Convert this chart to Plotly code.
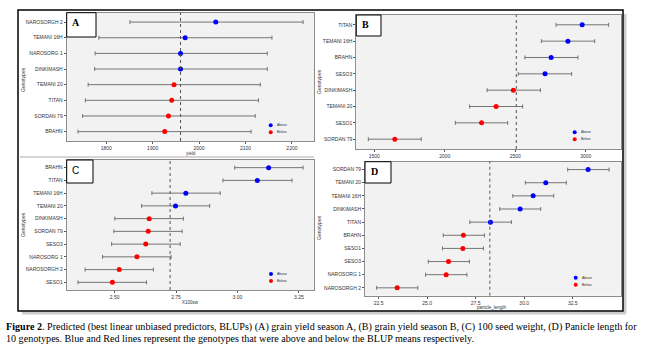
import plotly.graph_objects as go

W, H = 648, 350

# ---------------- data ----------------
A_genotypes = ["NAROSORGH 2", "TEMANI 16H", "NAROSORG 1", "DINKIMASH", "TEMANI 20", "TITAN", "SORDAN 79", "BRAHN"]
A_blup = [2036, 1970, 1960, 1960, 1946, 1941, 1934, 1926]
A_lower = [1851, 1784, 1776, 1775, 1761, 1755, 1749, 1739]
A_upper = [2224, 2157, 2147, 2147, 2132, 2128, 2121, 2112]
A_group = ["Above", "Above", "Above", "Above", "Below", "Below", "Below", "Below"]
A_mean = 1960
A_ticks = [1800, 1900, 2000, 2100, 2200]

B_genotypes = ["TITAN", "TEMANI 16H", "BRAHN", "SESO3", "DINKIMASH", "TEMANI 20", "SESO1", "SORDAN 79"]
B_blup = [2974, 2873, 2754, 2711, 2486, 2364, 2261, 1646]
B_lower = [2789, 2685, 2568, 2521, 2300, 2176, 2075, 1458]
B_upper = [3162, 3063, 2944, 2899, 2678, 2552, 2446, 1833]
B_group = ["Above", "Above", "Above", "Above", "Below", "Below", "Below", "Below"]
B_mean = 2507
B_ticks = [1500, 2000, 2500, 3000]

C_genotypes = ["BRAHN", "TITAN", "TEMANI 16H", "TEMANI 20", "DINKIMASH", "SORDAN 79", "SESO3",
               "NAROSORG 1", "NAROSORGH 2", "SESO1"]
C_blup = [3.127, 3.081, 2.790, 2.748, 2.641, 2.637, 2.627, 2.591, 2.519, 2.491]
C_lower = [2.989, 2.941, 2.652, 2.610, 2.501, 2.497, 2.488, 2.451, 2.380, 2.351]
C_upper = [3.267, 3.222, 2.930, 2.887, 2.780, 2.775, 2.767, 2.730, 2.658, 2.630]
C_group = ["Above"] * 4 + ["Below"] * 6
C_mean = 2.726
C_ticks = [2.50, 2.75, 3.00, 3.25]

D_genotypes = ["SORDAN 79", "TEMANI 20", "TEMANI 16H", "DINKIMASH", "TITAN", "BRAHN", "SESO1", "SESO3",
               "NAROSORG 1", "NAROSORGH 2"]
D_blup = [33.29, 31.11, 30.46, 29.79, 28.26, 26.87, 26.84, 26.10, 25.98, 23.46]
D_lower = [32.24, 30.06, 29.41, 28.74, 27.20, 25.83, 25.79, 25.06, 24.92, 22.40]
D_upper = [34.37, 32.17, 31.52, 30.85, 29.34, 27.95, 27.90, 27.18, 27.05, 24.52]
D_group = ["Above"] * 5 + ["Below"] * 5
D_mean = 28.23
D_ticks = [22.5, 25.0, 27.5, 30.0, 32.5]

group_colors = {"Above": "#0000FF", "Below": "#FF0000"}

CAPTION_1 = ("<b>Figure 2</b>. Predicted (best linear unbiased predictors, BLUPs) (A) grain yield season A, "
             "(B) grain yield season B, (C) 100 seed weight, (D) Panicle length for")
CAPTION_2 = ("10 genotypes. Blue and Red lines represent the genotypes that were above and below "
             "the BLUP means respectively.")


def px(x):
    return x / W


def py(y):
    return 1 - y / H


fig = go.Figure()
shapes = []
annotations = []

panels = [
    dict(idx=1, g=A_genotypes, b=A_blup, lo=A_lower, hi=A_upper, grp=A_group, mean=A_mean, ticks=A_ticks,
         fmt="d", xtitle="yield", box=(66.7, 12.7, 314.3, 141), label="A", lfont="Liberation Serif",
         lbox=(66.7, 12.7, 96, 37), leg=(270.7, 125.3), xt=(191, 153), yt=(23, 80)),
    dict(idx=2, g=B_genotypes, b=B_blup, lo=B_lower, hi=B_upper, grp=B_group, mean=B_mean, ticks=B_ticks,
         fmt="d", xtitle=None, box=(356.3, 15, 620.7, 149), label="B", lfont="Liberation Serif",
         lbox=(356.3, 15, 381, 36), leg=(574.7, 132.3), xt=None, yt=(319, 82)),
    dict(idx=3, g=C_genotypes, b=C_blup, lo=C_lower, hi=C_upper, grp=C_group, mean=C_mean, ticks=C_ticks,
         fmt=".2f", xtitle="X100sw", box=(66.7, 160, 314.3, 290), label="C", lfont="Liberation Sans",
         lbox=(66.7, 160, 93, 183), leg=(271, 274), xt=(191, 302.5), yt=(23, 225)),
    dict(idx=4, g=D_genotypes, b=D_blup, lo=D_lower, hi=D_upper, grp=D_group, mean=D_mean, ticks=D_ticks,
         fmt=".1f", xtitle="panicle_length", box=(365, 161.7, 620.7, 295.7), label="D", lfont="Liberation Serif",
         lbox=(365, 161.7, 391, 183), leg=(575.7, 277.7), xt=(492, 307.2), yt=(319, 228)),
]

tickfont = dict(family="Liberation Sans", size=5, color="#333333")

for p in panels:
    i = p["idx"]
    xa = "x" if i == 1 else f"x{i}"
    ya = "y" if i == 1 else f"y{i}"
    allv = p["lo"] + p["hi"]
    span = max(allv) - min(allv)
    xr = [min(allv) - 0.05 * span, max(allv) + 0.05 * span]
    n = len(p["g"])
    for grp in ["Above", "Below"]:
        sel = [k for k in range(n) if p["grp"][k] == grp]
        fig.add_trace(go.Scatter(
            x=[p["b"][k] for k in sel],
            y=[p["g"][k] for k in sel],
            mode="markers",
            marker=dict(color=group_colors[grp], size=5),
            error_x=dict(type="data", symmetric=False,
                         array=[p["hi"][k] - p["b"][k] for k in sel],
                         arrayminus=[p["b"][k] - p["lo"][k] for k in sel],
                         color="#666666", thickness=0.9, width=2),
            xaxis=xa, yaxis=ya, showlegend=False, name=grp,
        ))
    x0, y0, x1, y1 = p["box"]
    tickvals = p["ticks"]
    if p["fmt"] == "d":
        ticktext = [f"{int(v)}" for v in tickvals]
    elif p["fmt"] == ".2f":
        ticktext = [f"{v:.2f}" for v in tickvals]
    else:
        ticktext = [f"{v:.1f}" for v in tickvals]
    fig.layout[("xaxis" if i == 1 else f"xaxis{i}")] = dict(
        domain=[px(x0), px(x1)], anchor=ya, range=xr, tickvals=tickvals, ticktext=ticktext,
        showgrid=False, zeroline=False, showline=True, mirror=True, linecolor="#8c8c8c", linewidth=1,
        ticks="outside", ticklen=2, tickcolor="#555555", tickwidth=0.8, tickfont=tickfont)
    fig.layout[("yaxis" if i == 1 else f"yaxis{i}")] = dict(
        domain=[py(y1), py(y0)], anchor=xa, type="category",
        categoryorder="array", categoryarray=list(reversed(p["g"])),
        range=[-0.6, n - 0.4], showgrid=False, zeroline=False, showline=True, mirror=True,
        linecolor="#8c8c8c", linewidth=1, ticks="outside", ticklen=2, tickcolor="#555555",
        tickwidth=0.8, tickfont=tickfont)
    shapes.append(dict(type="line", xref=xa, yref=f"{ya} domain", x0=p["mean"], x1=p["mean"], y0=0, y1=1,
                       line=dict(color="#555555", width=1, dash="dot")))
    lx0, ly0, lx1, ly1 = p["lbox"]
    shapes.append(dict(type="rect", xref="paper", yref="paper", x0=px(lx0), x1=px(lx1), y0=py(ly1), y1=py(ly0),
                       fillcolor="white", line=dict(color="black", width=1)))
    annotations.append(dict(text=f"<b>{p['label']}</b>" if p["label"] != "C" else "C", xref="paper", yref="paper",
                            x=px(lx0 + 9), y=py(ly0 + 10), xanchor="center", yanchor="middle", showarrow=False,
                            font=dict(family=p["lfont"], size=10, color="black")))
    lgx, lgy = p["leg"]
    for k, grp in enumerate(["Above", "Below"]):
        cy = lgy + 7 * k
        shapes.append(dict(type="circle", xref="paper", yref="paper", x0=px(lgx - 2), x1=px(lgx + 2),
                           y0=py(cy + 2), y1=py(cy - 2), fillcolor=group_colors[grp], line=dict(width=0)))
        annotations.append(dict(text=grp, xref="paper", yref="paper", x=px(lgx + 4), y=py(cy),
                                xanchor="left", yanchor="middle", showarrow=False,
                                font=dict(family="Liberation Sans", size=3.5, color="#333333")))
    if p["xt"]:
        annotations.append(dict(text=p["xtitle"], xref="paper", yref="paper", x=px(p["xt"][0]), y=py(p["xt"][1]),
                                xanchor="center", yanchor="middle", showarrow=False,
                                font=dict(family="Liberation Sans", size=4.5, color="#333333")))
    annotations.append(dict(text="Genotypes", xref="paper", yref="paper", x=px(p["yt"][0]), y=py(p["yt"][1]),
                            xanchor="center", yanchor="middle", showarrow=False, textangle=-90,
                            font=dict(family="Liberation Sans", size=5, color="#333333")))

# frame with shadow and separator
shapes.append(dict(type="line", xref="paper", yref="paper", x0=px(625), x1=px(625), y0=py(14), y1=py(313),
                   line=dict(color="#cccccc", width=3)))
shapes.append(dict(type="line", xref="paper", yref="paper", x0=px(22), x1=px(626), y0=py(313), y1=py(313),
                   line=dict(color="#cccccc", width=3)))
shapes.append(dict(type="rect", xref="paper", yref="paper", x0=px(18), x1=px(623), y0=py(311), y1=py(10),
                   line=dict(color="black", width=1.5)))
shapes.append(dict(type="line", xref="paper", yref="paper", x0=px(20), x1=px(314), y0=py(157), y1=py(157),
                   line=dict(color="#aaaaaa", width=1)))

# caption
annotations.append(dict(text=CAPTION_1, xref="paper", yref="paper", x=px(4), y=py(326.5), xanchor="left",
                        yanchor="middle", showarrow=False,
                        font=dict(family="Liberation Serif", size=10.1, color="black")))
annotations.append(dict(text=CAPTION_2, xref="paper", yref="paper", x=px(4), y=py(338), xanchor="left",
                        yanchor="middle", showarrow=False,
                        font=dict(family="Liberation Serif", size=10.1, color="black")))

fig.update_layout(width=W, height=H, margin=dict(l=0, r=0, t=0, b=0), paper_bgcolor="white",
                  plot_bgcolor="#f2f2f2", shapes=shapes, annotations=annotations, showlegend=False)

fig.write_html("out.html")
